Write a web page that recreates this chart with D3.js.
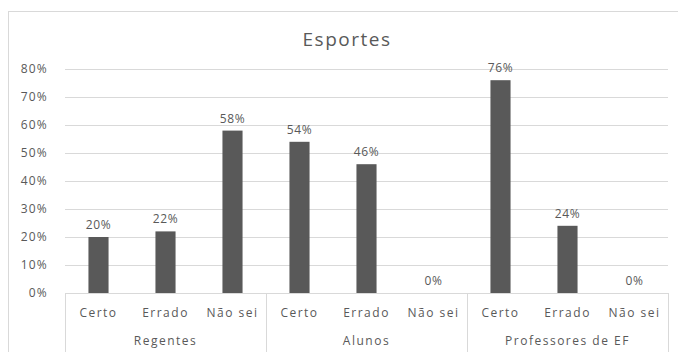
<!DOCTYPE html>
<html>
<head>
<meta charset="utf-8">
<script src="https://cdn.jsdelivr.net/npm/d3@7"></script>
<style>
  body { margin: 0; background: #fff; }
  text { font-family: "Open Sans", "DejaVu Sans", sans-serif; fill: #595959; }
</style>
</head>
<body>
<svg id="chart" width="678" height="352"></svg>
<script>
const groups = ["Regentes", "Alunos", "Professores de EF"];
const answers = ["Certo", "Errado", "Não sei"];
const regentes = [20, 22, 58];
const alunos = [54, 46, 0];
const professores = [76, 24, 0];
const yTicks = [0, 10, 20, 30, 40, 50, 60, 70, 80];

const seriesByGroup = [regentes, alunos, professores];
const data = [];
groups.forEach((g, gi) => {
  answers.forEach((a, ai) => {
    data.push({ key: g + "|" + a, group: g, answer: a, value: seriesByGroup[gi][ai] });
  });
});

const svg = d3.select("#chart");

// outer frame
svg.append("rect")
  .attr("x", 8.5).attr("y", 11.5)
  .attr("width", 680).attr("height", 360)
  .attr("fill", "none").attr("stroke", "#d9d9d9");

const x = d3.scaleBand()
  .domain(data.map(d => d.key))
  .range([65, 668])
  .paddingInner(0.7)
  .paddingOuter(0.35);

const y = d3.scaleLinear().domain([0, 80]).range([293, 69]);

// grid lines
svg.append("g")
  .selectAll("line")
  .data(yTicks.slice(1))
  .join("line")
  .attr("x1", 65).attr("x2", 668)
  .attr("y1", d => Math.round(y(d)) + 0.5)
  .attr("y2", d => Math.round(y(d)) + 0.5)
  .attr("stroke", "#d9d9d9");

// y tick labels
svg.append("g")
  .selectAll("text")
  .data(yTicks)
  .join("text")
  .attr("x", 48)
  .attr("y", d => y(d) + 4)
  .attr("text-anchor", "end")
  .attr("font-size", 12)
  .attr("letter-spacing", 1.2)
  .text(d => d + "%");

// bars
svg.append("g")
  .selectAll("rect")
  .data(data)
  .join("rect")
  .attr("x", d => x(d.key))
  .attr("y", d => y(d.value))
  .attr("width", x.bandwidth())
  .attr("height", d => y(0) - y(d.value))
  .attr("fill", "#595959");

// value labels
svg.append("g")
  .selectAll("text")
  .data(data)
  .join("text")
  .attr("x", d => x(d.key) + x.bandwidth() / 2)
  .attr("y", d => y(d.value) - 8)
  .attr("text-anchor", "middle")
  .attr("font-size", 12)
  .attr("letter-spacing", 0.7)
  .text(d => d.value + "%");

// x axis line
svg.append("line")
  .attr("x1", 65).attr("x2", 668)
  .attr("y1", 293.5).attr("y2", 293.5)
  .attr("stroke", "#d9d9d9");

// group separators
const groupEdges = [0, 3, 6, 9].map(i => 65 + i * (603 / 9));
svg.append("g")
  .selectAll("line")
  .data(groupEdges)
  .join("line")
  .attr("x1", d => Math.round(d) + 0.5).attr("x2", d => Math.round(d) + 0.5)
  .attr("y1", 293).attr("y2", 352)
  .attr("stroke", "#d9d9d9");

// category labels
svg.append("g")
  .selectAll("text")
  .data(data)
  .join("text")
  .attr("x", d => x(d.key) + x.bandwidth() / 2)
  .attr("y", 317)
  .attr("text-anchor", "middle")
  .attr("font-size", 12)
  .attr("letter-spacing", 1.5)
  .text(d => d.answer);

// group labels
svg.append("g")
  .selectAll("text")
  .data(groups)
  .join("text")
  .attr("x", (d, i) => (groupEdges[i] + groupEdges[i + 1]) / 2)
  .attr("y", 345)
  .attr("text-anchor", "middle")
  .attr("font-size", 12)
  .attr("letter-spacing", 1.5)
  .text(d => d);

// title
svg.append("text")
  .attr("x", 347)
  .attr("y", 46)
  .attr("text-anchor", "middle")
  .attr("font-size", 19)
  .attr("letter-spacing", 1.5)
  .text("Esportes");
</script>
</body>
</html>
